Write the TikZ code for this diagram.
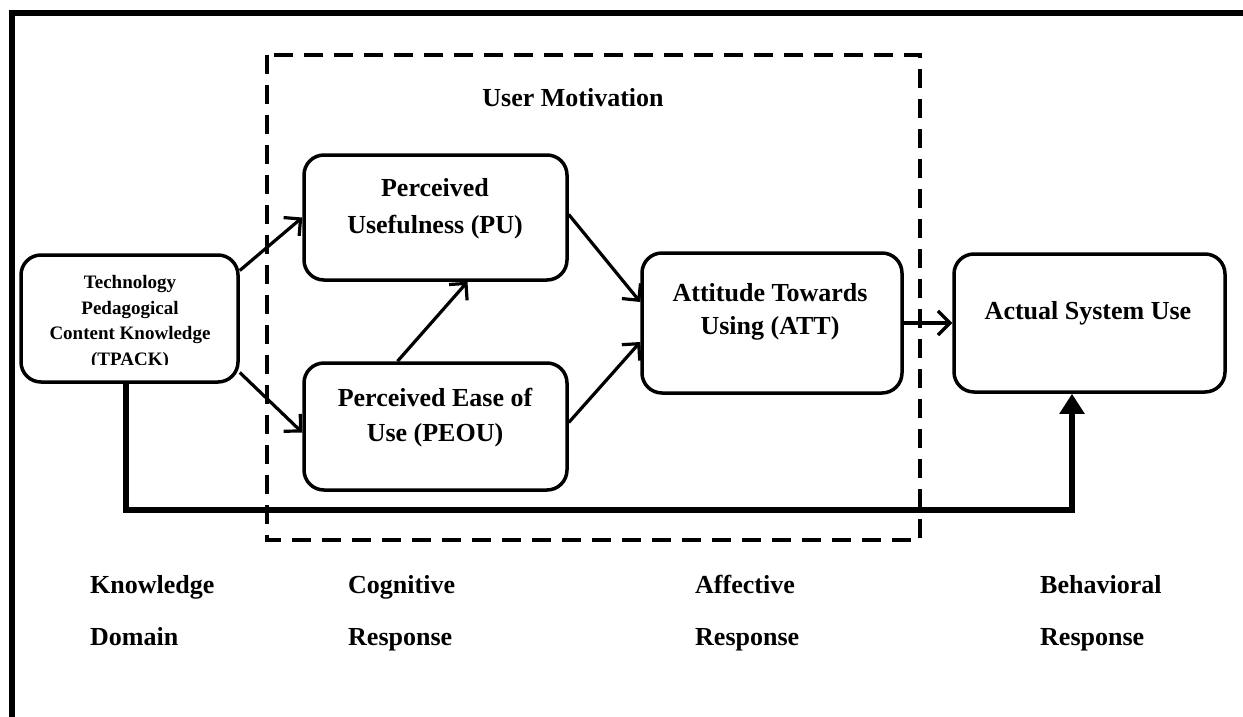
\documentclass[tikz,border=0pt]{standalone}
\usepackage{fontspec}
\setmainfont{Liberation Serif}
\usetikzlibrary{arrows.meta}

\tikzset{
  box/.style={draw, line width=3.5pt, rounded corners=20pt, inner sep=0pt},
  txt/.style={font=\bfseries\fontsize{26}{35}\selectfont, align=center, inner sep=0pt},
  lvl/.style={font=\bfseries\fontsize{26}{35}\selectfont, anchor=base west, inner sep=0pt},
  link/.style={line width=3.2pt, -{Straight Barb[length=12pt,width=24pt]}},
  bigarrow/.style={line width=6pt, -{Triangle[length=20pt,width=24pt]}},
  frame/.style={line width=6pt},
  group/.style={line width=4pt, dash pattern=on 19pt off 11pt}
}

\begin{document}
\begin{tikzpicture}[x=1pt, y=-1pt]
\useasboundingbox (0,0) rectangle (1243,717);

% outer frame (open at the right and bottom)
\draw[frame] (12,740) -- (12,13) -- (1260,13);

% user motivation group
\draw[group] (267,55) rectangle (920,540);
\node[txt] (um) at (573,98) {User Motivation};

% boxes
\node[box, minimum width=217pt, minimum height=127pt] (tpack) at (129.5,318.5) {};
\node[box, minimum width=263pt, minimum height=125pt] (pu) at (435.5,217.5) {};
\node[box, minimum width=263pt, minimum height=127pt] (peou) at (435.5,426.5) {};
\node[box, minimum width=260pt, minimum height=140pt] (att) at (772,323) {};
\node[box, minimum width=271pt, minimum height=138pt] (asu) at (1089.5,323) {};

% box texts
\begin{scope}
  \clip (21,255) rectangle (238,364);
  \node[txt, font=\bfseries\fontsize{19}{25.5}\selectfont] (tpack-t) at (130,322.5) {Technology\\Pedagogical\\Content Knowledge\\(TPACK)};
\end{scope}
\node[txt, font=\bfseries\fontsize{26}{37}\selectfont] (pu-t) at (435,209) {Perceived\\Usefulness (PU)};
\node[txt] (peou-t) at (435,418) {Perceived Ease of\\Use (PEOU)};
\node[txt, font=\bfseries\fontsize{26}{33}\selectfont] (att-t) at (770,312) {Attitude Towards\\Using (ATT)};
\node[txt] (asu-t) at (1088,313) {Actual System Use};

% connectors
\draw[link] ([yshift=48pt]tpack.east) -- (pu.west);
\draw[link] ([yshift=-54pt]tpack.east) -- ([yshift=-6pt]peou.west);
\draw[link] ([xshift=-38pt]peou.north) -- ([xshift=32pt]pu.south);
\draw[link] ([yshift=3pt]pu.east) -- ([yshift=21pt]att.west);
\draw[link] ([yshift=4pt]peou.east) -- ([yshift=-19pt]att.west);
\draw[link] (att.east) -- (asu.west);

\coordinate (bend) at (1072,510);
\draw[bigarrow] ([xshift=-4pt]tpack.south) |- (bend) -- ([xshift=-17.5pt]asu.south);

% level labels
\node[lvl] (k1) at (90,593) {Knowledge};
\node[lvl] (k2) at (90,645) {Domain};
\node[lvl] (c1) at (348,593) {Cognitive};
\node[lvl] (c2) at (348,645) {Response};
\node[lvl] (a1) at (695,593) {Affective};
\node[lvl] (a2) at (695,645) {Response};
\node[lvl] (b1) at (1040,593) {Behavioral};
\node[lvl] (b2) at (1040,645) {Response};
\end{tikzpicture}
\end{document}
